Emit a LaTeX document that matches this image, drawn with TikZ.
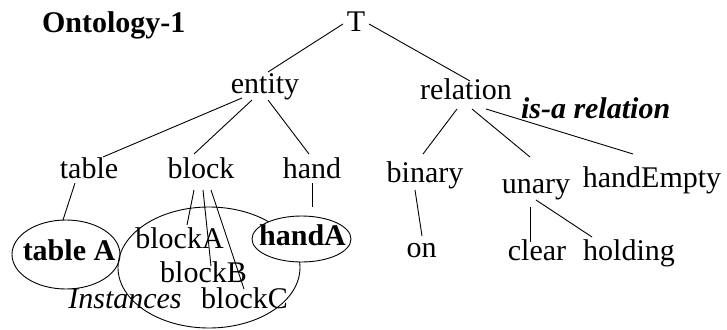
\documentclass[tikz,border=0pt]{standalone}
\usepackage{fontspec}
\setmainfont{Liberation Serif}
\usetikzlibrary{shapes.geometric}
\begin{document}
\begin{tikzpicture}[x=1pt, y=-1pt,
  every node/.style={inner sep=0pt, outer sep=0pt, font=\fontsize{30}{36}\selectfont},
  term/.style={anchor=base},
  ring/.style={draw, ellipse, line width=0.9pt},
  edge/.style={draw, line width=0.9pt}]
\useasboundingbox (0,0) rectangle (727,329);

% instance groups
\node[ring, minimum width=182pt, minimum height=121pt] (blockring) at (209,267.5) {};
\node[ring, minimum width=108pt, minimum height=69pt] (tableAring) at (66,254.5) {};
\node[ring, fill=white, minimum width=99pt, minimum height=46pt] (handAring) at (301.5,239) {};

% titles
\node[anchor=base west, font=\fontsize{30}{36}\selectfont\bfseries] (title) at (42,33) {Ontology-1};
\node[anchor=base west, font=\fontsize{30}{36}\selectfont\bfseries\itshape] (isa) at (521,118) {is-a relation};

% concept tree
\node[term] (T) at (356,32) {T};
\node[term] (entity) at (265,93) {entity};
\node[term] (relation) at (466,99) {relation};
\node[term] (table) at (89,178) {table};
\node[term] (block) at (201,178) {block};
\node[term] (hand) at (312,178) {hand};
\node[term] (binary) at (425,182) {binary};
\node[term] (unary) at (536,193) {unary};
\node[term] (handEmpty) at (652,187) {handEmpty};
\node[term] (on) at (421.5,257) {on};
\node[term] (clear) at (537,260) {clear};
\node[term] (holding) at (629,260) {holding};

% instances
\node[term, font=\fontsize{30}{36}\selectfont\bfseries] (tableA) at (69,260) {table A};
\node[term, font=\fontsize{30}{36}\selectfont\bfseries] (handA) at (302.5,245) {handA};
\node[term] (blockA) at (179.5,248) {blockA};
\node[term] (blockB) at (203.5,282) {blockB};
\node[term] (blockC) at (244.5,308) {blockC};
\node[term, font=\fontsize{30}{36}\selectfont\itshape] (inst) at (125,308) {Instances};

% is-a links
\path[edge] ([shift={(-13,-8)}]T.base) -- ([shift={(3,-21)}]entity.base);
\path[edge] ([shift={(13,-8)}]T.base) -- ([shift={(4,-18)}]relation.base);
\path[edge] ([shift={(-23,5)}]entity.base) -- ([shift={(14,-21)}]table.base);
\path[edge] ([shift={(-13,7)}]entity.base) -- ([shift={(-7,-24)}]block.base);
\path[edge] ([shift={(3,7)}]entity.base) -- ([shift={(-3,-24)}]hand.base);
\path[edge] ([shift={(-9,10)}]relation.base) -- ([shift={(-2,-28)}]binary.base);
\path[edge] ([shift={(6,10)}]relation.base) -- ([shift={(-6,-36)}]unary.base);
\path[edge] ([shift={(20,10)}]relation.base) -- ([shift={(-19,-33)}]handEmpty.base);
\path[edge] ([shift={(-10,8)}]binary.base) -- ([shift={(0.5,-21)}]on.base);
\path[edge] ([shift={(-6,14)}]unary.base) -- ([shift={(-7,-18)}]clear.base);
\path[edge] ([shift={(0,7)}]unary.base) -- ([shift={(-37,-23)}]holding.base);

% instance-of links
\path[edge] ([shift={(-14,5)}]table.base) -- ([shift={(-3,0)}]tableAring.north);
\path[edge] ([shift={(0,5)}]hand.base) -- ([shift={(10.5,-32)}]handAring.center);
\path[edge] ([shift={(-7,12)}]block.base) -- ([shift={(7.5,-23)}]blockA.base);
\path[edge] ([shift={(2,12)}]block.base) -- ([shift={(7.5,-16)}]blockB.base);
\path[edge] ([shift={(10,12)}]block.base) -- ([shift={(-0.5,-19)}]blockC.base);
\end{tikzpicture}
\end{document}
